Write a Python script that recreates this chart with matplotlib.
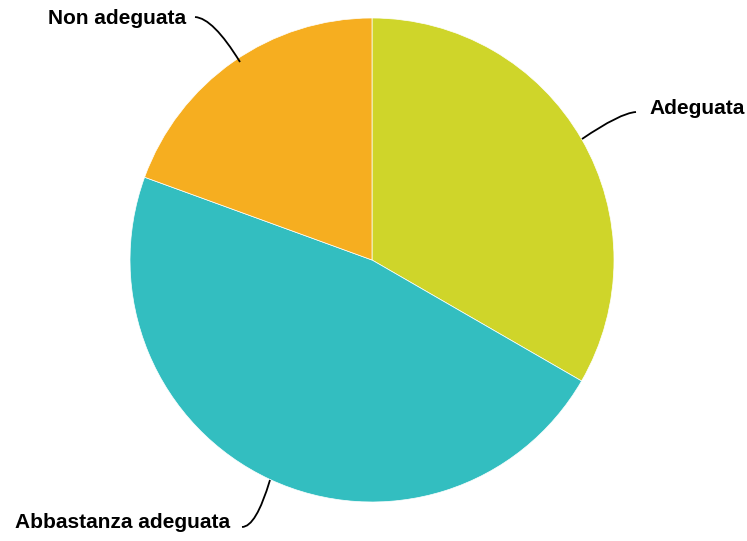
import matplotlib.pyplot as plt
from matplotlib.path import Path
from matplotlib.patches import PathPatch

labels = ['Adeguata', 'Abbastanza adeguata', 'Non adeguata']
values = [12, 17, 7]
colors = ['#CFD52A', '#33BEC0', '#F6AE20']

W, H = 747, 541

def px(x, y):
    # pixel coords (top-left origin) -> data coords
    return (x, H - y)

fig = plt.figure(figsize=(W / 100, H / 100), dpi=100)
ax = fig.add_axes([0, 0, 1, 1])

ax.pie(values, colors=colors, startangle=90, counterclock=False,
       center=px(372, 260), radius=242, frame=True,
       wedgeprops=dict(edgecolor='white', linewidth=0.5))
ax.set_xlim(0, W)
ax.set_ylim(0, H)
ax.set_aspect('equal')
ax.axis('off')

# leader lines: (start on pie, control, end near label)
leaders = [
    (px(582, 139), px(620, 113), px(636, 112)),
    (px(270, 480), px(256, 527), px(242, 527)),
    (px(240, 62), px(213, 18), px(195, 17)),
]
for p0, p1, p2 in leaders:
    path = Path([p0, p1, p2], [Path.MOVETO, Path.CURVE3, Path.CURVE3])
    ax.add_patch(PathPatch(path, facecolor='none', edgecolor='black', lw=1.3))

font = dict(family='Liberation Sans', fontweight='bold', fontsize=15, color='black')
ax.text(*px(649, 108), labels[0], ha='left', va='center', **font)
ax.text(*px(230, 523), labels[1], ha='right', va='center', **font)
ax.text(*px(186, 18), labels[2], ha='right', va='center', **font)

fig.savefig('out.png', dpi=100)
